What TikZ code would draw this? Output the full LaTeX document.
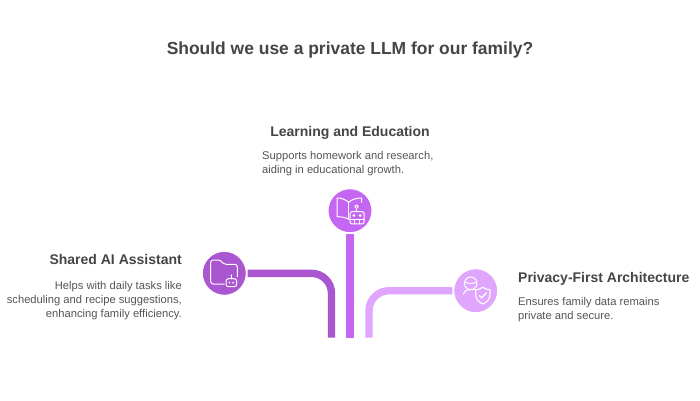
\documentclass[tikz,border=0pt]{standalone}
\usepackage{fontspec}
\setmainfont{Liberation Sans}
\definecolor{ttl}{HTML}{454545}
\definecolor{bod}{HTML}{555555}
\definecolor{cl}{HTML}{AB56D1}
\definecolor{ct}{HTML}{C566F2}
\definecolor{cr}{HTML}{E0A6FE}
\tikzset{
  titletext/.style={text=ttl,font=\bfseries\fontsize{17.45}{22}\selectfont,inner sep=0pt},
  headtext/.style={text=ttl,font=\bfseries\fontsize{14}{18}\selectfont,inner sep=0pt},
  desctext/.style={text=bod,font=\fontsize{11.2}{14}\selectfont,inner sep=0pt,align=left},
  descright/.style={text=bod,font=\fontsize{11.2}{14}\selectfont,inner sep=0pt,align=right},
  disc/.style={circle,draw=white,line width=1pt,minimum size=44pt,inner sep=0pt},
  conn/.style={line width=7.4pt,rounded corners=20pt},
  ico/.style={draw=white,line width=1pt,line cap=round,line join=round,fill=none}
}
\begin{document}
\begin{tikzpicture}[x=1pt,y=-1pt]
\useasboundingbox (0,0) rectangle (700,400);
\fill[white] (0,0) rectangle (700,400);
\node[titletext] (title) at (350,49.5) {Should we use a private LLM for our family?};
% discs
\node[disc,fill=ct] (top) at (350,210.7) {};
\node[disc,fill=cl] (left) at (224.3,273.3) {};
\node[disc,fill=cr] (right) at (475.7,290.7) {};
% free ends
\coordinate (endl) at (331.5,337.7);
\coordinate (endt) at (350,337.7);
\coordinate (endr) at (369,337.7);
% connectors
\draw[conn,ct] (top.south) ++(0,0.8) -- (endt);
\draw[conn,cl] (left.east) ++(0.8,0) -| (endl);
\draw[conn,cr] (right.west) ++(-0.8,0) -| (endr);
% texts
\node[headtext,anchor=base] (h1) at (350,136) {Learning and Education};
\node[desctext,anchor=north west] (d1) at (262,151) {Supports homework and research,\\aiding in educational growth.};
\node[headtext,anchor=base east] (h2) at (182,264) {Shared AI Assistant};
\node[descright,anchor=north east] (d2) at (182,281) {Helps with daily tasks like\\scheduling and recipe suggestions,\\enhancing family efficiency.};
\node[headtext,anchor=base west] (h3) at (518,282) {Privacy-First Architecture};
\node[desctext,anchor=north west] (d3) at (518,297) {Ensures family data remains\\private and secure.};
% icon: book + robot
\begin{scope}[shift={(top.center)}]
  \draw[ico] (-1.3,-8.5) .. controls (-5,-11.5) and (-9,-12.7) .. (-13,-12.7) -- (-13,6) .. controls (-9,6) and (-5,6.5) .. (-1.3,8.5);
  \draw[ico] (-1.3,-8.5) -- (-1.3,8.5) -- (-0.5,8.5);
  \draw[ico] (-1.3,-8.5) .. controls (2,-11.5) and (7,-12.7) .. (11.7,-12.7) -- (11.7,-8.5);
  \draw[ico] (6.5,-4) circle (1.8);
  \draw[ico] (6.5,-2.2) -- (6.5,1);
  \draw[ico,rounded corners=1.5pt] (0,1) rectangle (14,13.2);
  \draw[ico] (0,8.7) -- (14,8.7) (4.7,8.7) -- (4.7,13.2) (9.3,8.7) -- (9.3,13.2);
  \fill[white] (3.8,4.8) circle (1.5) (10.2,4.8) circle (1.5);
\end{scope}
% icon: folder + robot
\begin{scope}[shift={(left.center)}]
  \draw[ico,rounded corners=2.5pt] (0,10.7) -- (-13.6,10.7) -- (-13.6,-13.3) -- (-4,-13.3) -- (-0.5,-9) -- (13,-9) -- (13,3.5);
  \draw[ico,rounded corners=2.5pt] (1.7,5.4) rectangle (12.4,13.4);
  \draw[ico] (7,5.4) -- (7,2.5);
  \fill[white] (7,2) circle (0.9);
  \fill[white] (5.2,9.4) circle (1) (8.9,9.4) circle (1);
\end{scope}
% icon: user + shield
\begin{scope}[shift={(right.center)}]
  \draw[ico] (-5,-7.4) circle (6.3);
  \draw[ico] (-11,-8.6) .. controls (-6,-6.8) and (-4,-6.8) .. (1,-8.6);
  \draw[ico] (-12.3,3.3) .. controls (-10.5,-0.5) and (-8,-1.2) .. (-5,-1.2) -- (-1,-1.2);
  \draw[ico,line width=1.1pt] (7,-3.4) .. controls (5,-1.8) and (2,-1) .. (0,-1) -- (0,4) .. controls (0,8.5) and (3.5,11.8) .. (7,13.3) .. controls (10.8,11.8) and (14.3,8.5) .. (14.3,4) -- (14.3,-1) .. controls (12,-1) and (9,-1.8) .. (7,-3.4);
  \draw[ico,line width=1.3pt] (3.6,4.8) -- (6,7.2) -- (10.8,2);
\end{scope}
\end{tikzpicture}
\end{document}
